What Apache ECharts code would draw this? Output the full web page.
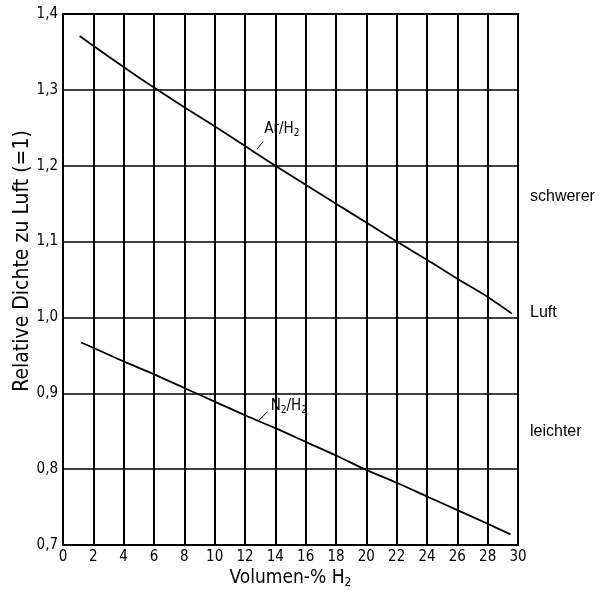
<!DOCTYPE html>
<html><head><meta charset="utf-8">
<script src="https://cdn.jsdelivr.net/npm/echarts@6/dist/echarts.min.js"></script>
<style>html,body{margin:0;padding:0;background:#fff}#c{width:612px;height:592px}</style>
</head><body><div id="c"></div>
<script>
const xTicks = [0,2,4,6,8,10,12,14,16,18,20,22,24,26,28,30];
const yTicks = [0.7,0.8,0.9,1.0,1.1,1.2,1.3,1.4];
const arH2_x = [1.1,2,4,6,8,10,12,14,16,18,20,22,24,26,28,29.6];
const arH2_y = [1.371,1.358,1.330,1.303,1.277,1.252,1.226,1.200,1.175,1.150,1.125,1.100,1.076,1.051,1.027,1.005];
const n2H2_x = [1.2,2,4,6,8,10,12,14,16,18,20,22,24,26,28,29.5];
const n2H2_y = [0.967,0.960,0.942,0.925,0.907,0.889,0.871,0.854,0.836,0.818,0.799,0.782,0.764,0.746,0.728,0.714];
const sideLabels = ['schwerer','Luft','leichter'];
const sideLabelY = [1.159, 1.007, 0.849];
const xTitle = 'Volumen-% H';
const yTitle = 'Relative Dichte zu Luft (=1)';

const chart = echarts.init(document.getElementById('c'), null, {renderer:'canvas'});
const tickFont = {fontFamily:'Liberation Sans Narrow, DejaVu Sans Condensed', fontSize:15, color:'#000'};
chart.setOption({
  animation:false,
  backgroundColor:'#fff',
  grid:{left:63,right:94,top:14,bottom:47,show:true,borderColor:'#000',borderWidth:2,outerBoundsMode:'none',containLabel:false},
  xAxis:{type:'value',min:0,max:30,interval:2,
    axisLine:{show:true,lineStyle:{color:'#000',width:2}},
    axisTick:{show:false},
    splitLine:{show:true,lineStyle:{color:'#000',width:2}},
    axisLabel:Object.assign({margin:5,formatter:v=>String(v)},tickFont)
  },
  yAxis:{type:'value',min:0.7,max:1.4,interval:0.1,
    axisLine:{show:true,lineStyle:{color:'#000',width:2}},
    axisTick:{show:false},
    splitLine:{show:true,lineStyle:{color:'#000',width:1.6}},
    axisLabel:Object.assign({margin:5,formatter:v=>v.toFixed(1).replace('.',',')},tickFont)
  },
  series:[
    {type:'line',name:'Ar/H2',data:arH2_x.map((x,i)=>[x,arH2_y[i]]),showSymbol:false,smooth:0.3,
     lineStyle:{color:'#000',width:1.8}},
    {type:'line',name:'N2/H2',data:n2H2_x.map((x,i)=>[x,n2H2_y[i]]),showSymbol:false,smooth:0.3,
     lineStyle:{color:'#000',width:1.8}}
  ]
});

function px(x,y){return chart.convertToPixel({gridIndex:0},[x,y]);}
const g = [];
const titleFont = 'DejaVu Sans Condensed';
// axis titles
const xc = px(15,0.7);
g.push({type:'text',x:xc[0],y:578,style:{text:'{m|'+xTitle+'}{s|2}',align:'center',verticalAlign:'middle',
  rich:{m:{fontFamily:titleFont,fontSize:19,fill:'#000'},s:{fontFamily:titleFont,fontSize:12,fill:'#000',padding:[9,0,0,0]}}}});
g.push({type:'text',x:23,y:261,rotation:Math.PI/2,style:{text:yTitle,align:'center',verticalAlign:'middle',
  fontFamily:titleFont,fontSize:21,fill:'#000'}});
// side labels
sideLabels.forEach((t,i)=>{
  const p = px(30, sideLabelY[i]);
  g.push({type:'text',x:p[0]+12,y:p[1],style:{text:t,fontFamily:'Liberation Sans',fontSize:16,fill:'#000',verticalAlign:'middle'}});
});
// curve labels with leader lines
const rich = {m:{fontFamily:titleFont,fontSize:15,fill:'#000'},s:{fontFamily:titleFont,fontSize:10,fill:'#000',padding:[7,0,0,0]}};
const a1 = px(12.8,1.222), a2 = px(13.2,1.232);
g.push({type:'line',shape:{x1:a1[0],y1:a1[1],x2:a2[0],y2:a2[1]},style:{stroke:'#000',lineWidth:1}});
g.push({type:'text',x:a2[0]+1,y:a2[1]-12,style:{rich:rich,text:'{m|Ar/H}{s|2}',verticalAlign:'middle'}});
const b1 = px(12.95,0.865), b2 = px(13.5,0.876);
g.push({type:'line',shape:{x1:b1[0],y1:b1[1],x2:b2[0],y2:b2[1]},style:{stroke:'#000',lineWidth:1}});
g.push({type:'text',x:b2[0]+3,y:b2[1]-5,style:{rich:rich,text:'{m|N}{s|2}{m|/H}{s|2}',verticalAlign:'middle'}});
chart.setOption({graphic:g});
</script></body></html>
